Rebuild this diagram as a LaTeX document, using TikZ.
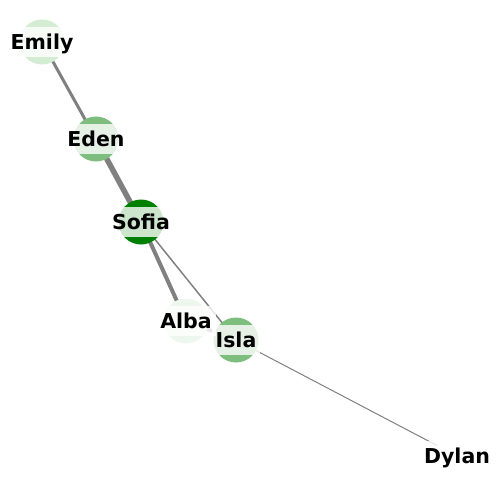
\documentclass[tikz,border=0pt]{standalone}
\usepackage{fontspec}
\setmainfont{DejaVu Sans}
\begin{document}
\begin{tikzpicture}[x=1pt,y=-1pt,
  edge/.style={color={rgb,255:red,128;green,128;blue,128}, line cap=butt},
  vert/.style={circle, draw=none, minimum size=45pt, inner sep=0pt},
  lab/.style={fill=white, fill opacity=0.8, text opacity=1, inner xsep=4pt, inner ysep=5.5pt,
    text height=17pt, text depth=2.5pt, font=\fontsize{20.5}{24}\selectfont\bfseries}
]
\useasboundingbox (0,0) rectangle (500,500);
\definecolor{emilyc}{HTML}{D4ECD4}
\definecolor{edenc}{HTML}{7DBD7D}
\definecolor{sofiac}{HTML}{008000}
\definecolor{albac}{HTML}{EEF7EE}
\definecolor{islac}{HTML}{7DBD7D}
\coordinate (emily) at (42,42);
\coordinate (eden) at (96,139);
\coordinate (sofia) at (141,222);
\coordinate (alba) at (186,321);
\coordinate (isla) at (236,340);
\coordinate (dylan) at (457,456);
\draw[edge, line width=3pt] (emily) -- (eden);
\draw[edge, line width=5.5pt] (eden) -- (sofia);
\draw[edge, line width=4pt] (sofia) -- (alba);
\draw[edge, line width=1.5pt] (sofia) -- (isla);
\draw[edge, line width=3.5pt] (alba) -- (isla);
\draw[edge, line width=1pt] (isla) -- (dylan);
\node[vert, fill=emilyc] (emilyn) at (emily) {};
\node[vert, fill=edenc] (edenn) at (eden) {};
\node[vert, fill=sofiac] (sofian) at (sofia) {};
\node[vert, fill=albac] (alban) at (alba) {};
\node[vert, fill=islac] (islan) at (isla) {};
\node[vert, fill=white] (dylann) at (dylan) {};
\node[lab] (emilyl) at (emily) {Emily};
\node[lab] (edenl) at (eden) {Eden};
\node[lab] (sofial) at (sofia) {Sofia};
\node[lab] (albal) at (alba) {Alba};
\node[lab] (islal) at (isla) {Isla};
\node[lab] (dylanl) at (dylan) {Dylan};
\end{tikzpicture}
\end{document}
